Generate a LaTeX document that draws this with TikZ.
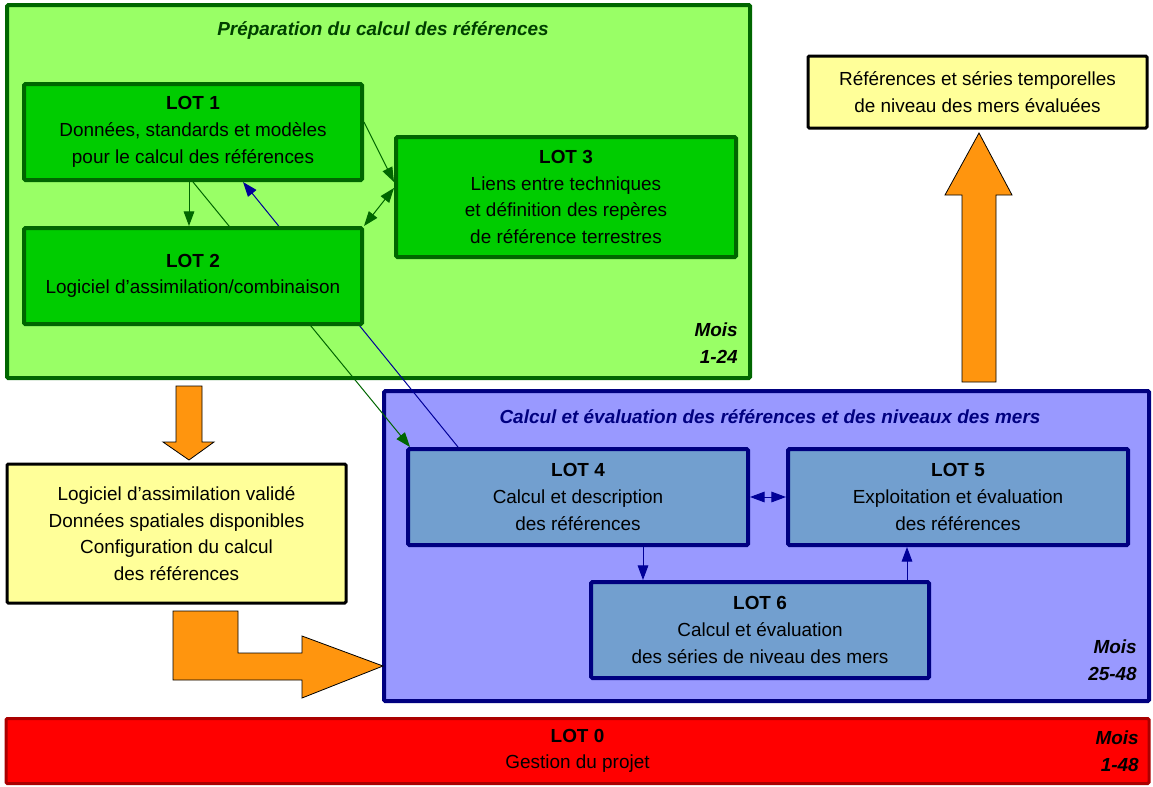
\documentclass[tikz,border=0pt]{standalone}
\usepackage{fontspec}
\setmainfont{Liberation Sans}
\usetikzlibrary{arrows.meta,calc}
\pgfdeclarelayer{bg}
\pgfdeclarelayer{mid}
\pgfsetlayers{bg,mid,main}
\definecolor{grpgreen}{HTML}{99FF66}
\definecolor{lotgreen}{HTML}{00CC00}
\definecolor{dkgreen}{HTML}{006600}
\definecolor{ttlgreen}{HTML}{004000}
\definecolor{grpblue}{HTML}{9999FF}
\definecolor{lotblue}{HTML}{729FCF}
\definecolor{dkblue}{HTML}{000080}
\definecolor{lnblue}{HTML}{000099}
\definecolor{redfill}{HTML}{FF0000}
\definecolor{redline}{HTML}{AA0000}
\definecolor{yelfill}{HTML}{FFFF99}
\definecolor{orfill}{HTML}{FF950E}
\begin{document}
\begin{tikzpicture}[x=0.75pt,y=-0.75pt,
  font=\fontsize{14.2}{20}\selectfont,
  >={Triangle[length=11pt,width=8pt]},
  boxbase/.style={rectangle,draw,align=center,inner sep=0pt,rounded corners=1pt},
  grpg/.style={boxbase,fill=grpgreen,draw=dkgreen,line width=3pt},
  lotg/.style={boxbase,fill=lotgreen,draw=dkgreen,line width=3pt,minimum width=253.5pt,minimum height=72pt},
  grpb/.style={boxbase,fill=grpblue,draw=dkblue,line width=3pt},
  lotb/.style={boxbase,fill=lotblue,draw=dkblue,line width=3pt,minimum width=255pt,minimum height=72pt},
  yelbox/.style={boxbase,fill=yelfill,draw=black,line width=2.25pt,minimum width=254.25pt},
  redbox/.style={boxbase,fill=redfill,draw=redline,line width=2.25pt},
  ttl/.style={font=\fontsize{14.2}{20}\selectfont\bfseries\itshape},
  mois/.style={font=\fontsize{14.2}{20}\selectfont\bfseries\itshape,align=right,anchor=east,inner sep=0pt},
  gline/.style={draw=dkgreen,line width=0.75pt},
  bline/.style={draw=lnblue,line width=0.75pt},
  orshape/.style={fill=orfill,draw=black,line width=0.6pt}
]
\useasboundingbox (0,0) rectangle (1153,786);

\begin{pgfonlayer}{bg}
\node[grpg,minimum width=557.25pt,minimum height=279.75pt] (grpA) at (378.5,191.5) {};
\node[grpb,minimum width=573.75pt,minimum height=232.5pt] (grpB) at (766.5,546) {};
\end{pgfonlayer}

\node[ttl,text=ttlgreen] (ttlA) at (383,31) {Préparation du calcul des références};
\node[ttl,text=dkblue] (ttlB) at (770,417) {Calcul et évaluation des références et des niveaux des mers};

\node[lotg] (lot1) at (193,132) {\textbf{LOT 1}\\Données, standards et modèles\\pour le calcul des références};
\node[lotg] (lot2) at (193,276) {\textbf{LOT 2}\\Logiciel d’assimilation/combinaison};
\node[lotg,minimum width=255pt,minimum height=90pt] (lot3) at (566,197) {\textbf{LOT 3}\\Liens entre techniques\\et définition des repères\\de référence terrestres};

\node[lotb] (lot4) at (578,497) {\textbf{LOT 4}\\Calcul et description\\des références};
\node[lotb] (lot5) at (958,497) {\textbf{LOT 5}\\Exploitation et évaluation\\des références};
\node[lotb,minimum width=253.5pt] (lot6) at (760,630) {\textbf{LOT 6}\\Calcul et évaluation\\des séries de niveau des mers};

\node[redbox,minimum width=857.25pt,minimum height=48.75pt] (lot0) at (577.5,751) {\textbf{LOT 0}\\Gestion du projet};

\node[yelbox,minimum height=54pt] (res) at (977.5,92) {Références et séries temporelles\\de niveau des mers évaluées};
\node[yelbox,minimum height=104.25pt] (val) at (176.5,533.5) {Logiciel d’assimilation validé\\Données spatiales disponibles\\Configuration du calcul\\des références};

\node[mois] (moisA) at (738,343) {Mois\\1-24};
\node[mois] (moisB) at (1137,660) {Mois\\25-48};
\node[mois] (moisC) at (1139,751) {Mois\\1-48};

% connectors passing behind boxes
\begin{pgfonlayer}{mid}
\draw[gline,->] (lot1.south) -- ([xshift=3pt]lot4.north west);
\draw[bline,->] ([xshift=39pt]lot4.north west) -- ([xshift=37.5pt]lot1.south);
\end{pgfonlayer}

\draw[gline,->] ([xshift=-3pt]lot1.south) -- ([xshift=-3pt]lot2.north);
\draw[gline,->] ([yshift=7.5pt]lot1.east) -- ([yshift=11.25pt]lot3.west);
\draw[gline,<->] (lot2.north east) -- ([yshift=6.75pt]lot3.west);

\draw[bline,<->] (lot4.east) -- (lot5.west);
\coordinate (c46) at ([xshift=48.75pt]lot4.south);
\draw[bline,->] (c46) -- (c46 |- lot6.north);
\coordinate (c65) at ([xshift=-38.25pt]lot5.south);
\draw[bline,<-] (c65) -- (c65 |- lot6.north);

% orange block arrows
\draw[orshape] (176,386) -- (202,386) -- (202,442) -- (214,442) -- (189,460) -- (163,442) -- (176,442) -- cycle;
\draw[orshape] (173,611) -- (238,611) -- (238,653) -- (302,653) -- (302,636) -- (383,666) -- (302,698) -- (302,680) -- (173,680) -- cycle;
\draw[orshape] (962,382) -- (962,195) -- (945,195) -- (979,133) -- (1012,195) -- (996,195) -- (996,382) -- cycle;
\end{tikzpicture}
\end{document}
